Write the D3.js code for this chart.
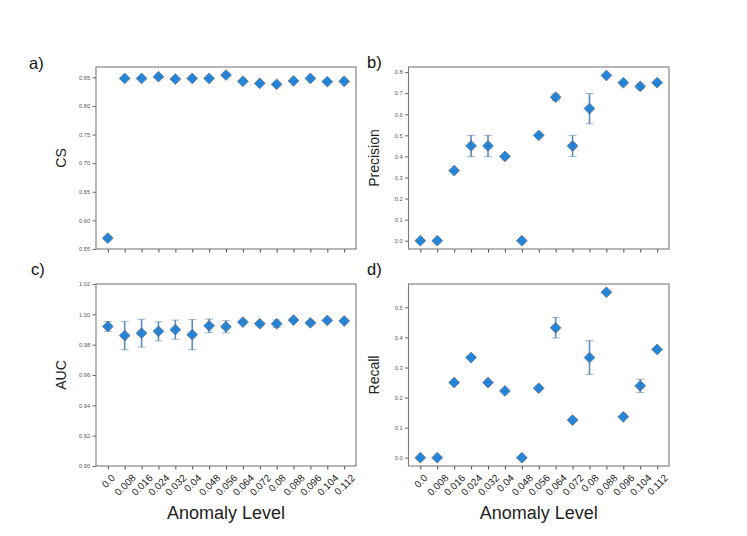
<!DOCTYPE html>
<html>
<head>
<meta charset="utf-8">
<script src="https://cdn.jsdelivr.net/npm/d3@7"></script>
<style>
  body { margin: 0; background: #fff; }
  svg { display: block; font-family: "Liberation Sans", Arial, sans-serif; }
</style>
</head>
<body>
<svg id="chart" width="747" height="536"></svg>
<script>
// anomaly levels on the x axis (categorical)
var levels = ["0.0", "0.008", "0.016", "0.024", "0.032", "0.04", "0.048", "0.056",
              "0.064", "0.072", "0.08", "0.088", "0.096", "0.104", "0.112"];

// a) CS
var csMean = [0.569, 0.848, 0.848, 0.851, 0.847, 0.848, 0.848, 0.854, 0.843, 0.8395, 0.8377, 0.8437, 0.848, 0.8425, 0.843];
var csErr  = [0.003, 0, 0, 0.002, 0, 0, 0, 0.002, 0, 0, 0, 0, 0.002, 0, 0];
var csTicks = [0.55, 0.60, 0.65, 0.70, 0.75, 0.80, 0.85];

// b) Precision
var precMean = [0, 0, 0.333, 0.45, 0.45, 0.4, 0, 0.5, 0.681, 0.45, 0.627, 0.784, 0.75, 0.732, 0.75];
var precErr  = [0, 0, 0, 0.05, 0.05, 0, 0, 0, 0.015, 0.05, 0.072, 0, 0, 0.012, 0];
var precTicks = [0, 0.1, 0.2, 0.3, 0.4, 0.5, 0.6, 0.7, 0.8];

// c) AUC
var aucMean = [0.992, 0.986, 0.9876, 0.9888, 0.9899, 0.9866, 0.9924, 0.9918, 0.9949, 0.9938, 0.9938, 0.9962, 0.9944, 0.996, 0.9956];
var aucErr  = [0.0032, 0.0094, 0.0092, 0.0063, 0.0063, 0.0099, 0.0045, 0.004, 0.0008, 0.001, 0.0025, 0.0006, 0.001, 0.0006, 0.001];
var aucTicks = [0.90, 0.92, 0.94, 0.96, 0.98, 1.00, 1.02];

// d) Recall
var recMean = [0, 0, 0.25, 0.333, 0.25, 0.222, 0, 0.231, 0.432, 0.125, 0.333, 0.55, 0.136, 0.239, 0.36];
var recErr  = [0, 0, 0, 0, 0, 0, 0, 0, 0.034, 0, 0.056, 0, 0, 0.022, 0];
var recTicks = [0, 0.1, 0.2, 0.3, 0.4, 0.5];

var svg = d3.select("#chart");

var panels = [
  { tag: "a)", label: "CS",        mean: csMean,   err: csErr,   ticks: csTicks,   fmt: d3.format(".2f"), domain: [0.55, 0.868],
    box: { x0: 96, x1: 356, y0: 67, y1: 249 }, tagPos: [29, 69], xlabels: false },
  { tag: "b)", label: "Precision", mean: precMean, err: precErr, ticks: precTicks, fmt: d3.format(".1f"), domain: [-0.0393, 0.8243],
    box: { x0: 408.5, x1: 669, y0: 67, y1: 249 }, tagPos: [367, 68], xlabels: false },
  { tag: "c)", label: "AUC",       mean: aucMean,  err: aucErr,  ticks: aucTicks,  fmt: d3.format(".2f"), domain: [0.90, 1.02],
    box: { x0: 96, x1: 356, y0: 284, y1: 466 }, tagPos: [31, 275], xlabels: true },
  { tag: "d)", label: "Recall",    mean: recMean,  err: recErr,  ticks: recTicks,  fmt: d3.format(".1f"), domain: [-0.0275, 0.5775],
    box: { x0: 408.5, x1: 669, y0: 284, y1: 466 }, tagPos: [367, 275], xlabels: true }
];

var diamond = d3.symbol().type(d3.symbolSquare).size(58);

panels.forEach(function (p) {
  var b = p.box;
  // matplotlib-like 5% margins around the categorical positions
  var x = d3.scaleLinear().domain([-0.7, levels.length - 1 + 0.7]).range([b.x0, b.x1]);
  var y = d3.scaleLinear().domain(p.domain).range([b.y1, b.y0]);
  var g = svg.append("g");

  // panel letter
  g.append("text")
    .attr("x", p.tagPos[0]).attr("y", p.tagPos[1])
    .attr("font-size", 16.5).attr("fill", "#111")
    .text(p.tag);

  // y axis
  var yAxis = g.append("g")
    .attr("transform", "translate(" + b.x0 + ",0)")
    .call(d3.axisLeft(y).tickValues(p.ticks).tickFormat(p.fmt).tickSize(3.5).tickPadding(2.5));
  yAxis.select(".domain").remove();
  yAxis.selectAll("line").attr("stroke", "#555").attr("stroke-width", 0.9);
  yAxis.selectAll("text").attr("font-size", 5.6).attr("fill", "#555").attr("font-family", "Liberation Sans, Arial, sans-serif");

  // x axis
  var xAxis = g.append("g")
    .attr("transform", "translate(0," + b.y1 + ")")
    .call(d3.axisBottom(x).tickValues(d3.range(levels.length)).tickFormat(function (i) { return levels[i]; }).tickSize(3.5));
  xAxis.select(".domain").remove();
  xAxis.selectAll("line").attr("stroke", "#333").attr("stroke-width", 0.9);
  if (!p.xlabels) {
    xAxis.selectAll("text").remove();
  } else {
    xAxis.selectAll("text")
      .attr("font-size", 10).attr("fill", "#222")
      .attr("font-family", "Liberation Sans, Arial, sans-serif")
      .attr("text-anchor", "middle")
      .attr("dy", null)
      .attr("dominant-baseline", "central")
      .each(function () {
        // rotated label box centred on the tick, top just below the tick mark
        var w = this.getComputedTextLength();
        var h = 10 * 0.75;
        var half = (w + h) * Math.SQRT1_2 / 2;
        d3.select(this)
          .attr("y", 0)
          .attr("transform", "translate(0," + (7.5 + half) + ") rotate(-45)");
      });

    g.append("text")
      .attr("x", (b.x0 + b.x1) / 2).attr("y", 519)
      .attr("text-anchor", "middle").attr("font-size", 18).attr("fill", "#222")
      .text("Anomaly Level");
  }

  // frame
  g.append("rect")
    .attr("x", b.x0).attr("y", b.y0)
    .attr("width", b.x1 - b.x0).attr("height", b.y1 - b.y0)
    .attr("fill", "none").attr("stroke", "#7a7a7a").attr("stroke-width", 1.1);

  // y label
  g.append("text")
    .attr("transform", "translate(" + (b.x0 - 30) + "," + ((b.y0 + b.y1) / 2) + ") rotate(-90)")
    .attr("text-anchor", "middle").attr("font-size", 14).attr("fill", "#222")
    .text(p.label);

  var pts = p.mean.map(function (m, i) { return { i: i, m: m, e: p.err[i] }; });

  // diamonds
  g.selectAll("path.pt").data(pts).enter().append("path")
    .attr("class", "pt")
    .attr("d", diamond)
    .attr("transform", function (d) { return "translate(" + x(d.i) + "," + y(d.m) + ") rotate(45)"; })
    .attr("fill", "#1e88e5")
    .attr("stroke", "#6a7480")
    .attr("stroke-width", 0.8);

  // error bars drawn on top of the markers
  var eb = g.selectAll("g.eb").data(pts).enter().append("g").attr("class", "eb")
    .attr("stroke", "#3f78ad").attr("stroke-opacity", 0.85);
  eb.append("line")
    .attr("x1", function (d) { return x(d.i); }).attr("x2", function (d) { return x(d.i); })
    .attr("y1", function (d) { return y(d.m - d.e); }).attr("y2", function (d) { return y(d.m + d.e); })
    .attr("stroke-width", 1.6);
  [-1, 1].forEach(function (s) {
    eb.append("line")
      .attr("x1", function (d) { return x(d.i) - 4; }).attr("x2", function (d) { return x(d.i) + 4; })
      .attr("y1", function (d) { return y(d.m + s * d.e); }).attr("y2", function (d) { return y(d.m + s * d.e); })
      .attr("stroke-width", 1)
      .attr("stroke-opacity", function (d) { return d.e > 0 ? 0.55 : 0.45; });
  });
});
</script>
</body>
</html>
